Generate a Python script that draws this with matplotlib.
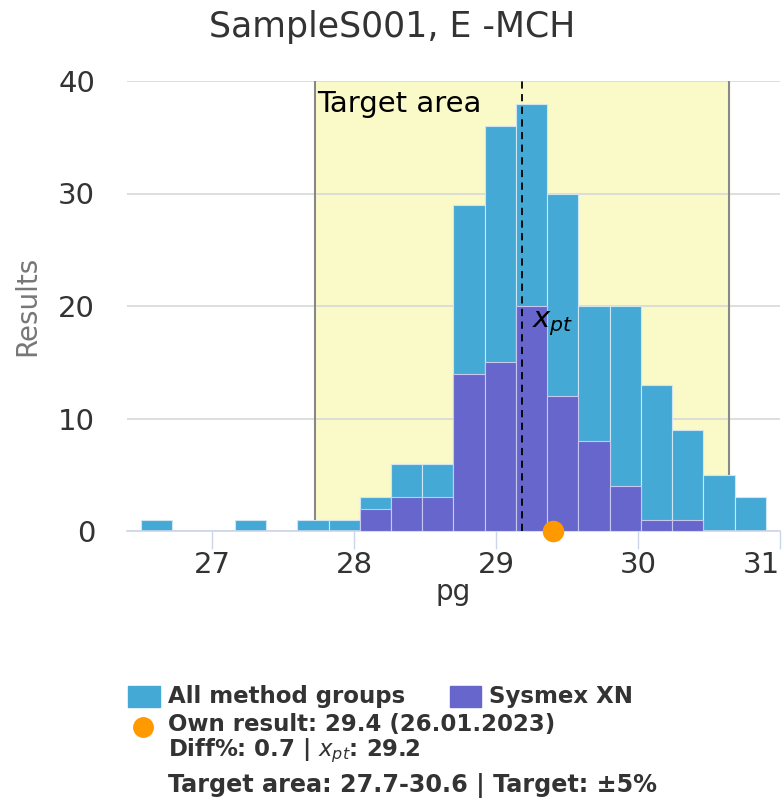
import numpy as np
import matplotlib.pyplot as plt
from matplotlib.patches import Rectangle

# histogram bins (pg)
bin_start = 26.5
bin_width = 0.22
all_counts = [1, 0, 0, 1, 0, 1, 1, 3, 6, 6, 29, 36, 38, 30, 20, 20, 13, 9, 5, 3]
sysmex_counts = [0, 0, 0, 0, 0, 0, 0, 2, 3, 3, 14, 15, 20, 12, 8, 4, 1, 1, 0, 0]

x_pt = 29.18
own_result = 29.4
own_date = "26.01.2023"
diff_pct = 0.7
target_pct = 5
target_lo = x_pt * (1 - target_pct / 100)
target_hi = x_pt * (1 + target_pct / 100)

title = "SampleS001, E -MCH"
c_all = "#45a9d6"
c_sys = "#6666cc"
c_own = "#ff9900"
txt = "#333333"

edges = bin_start + bin_width * np.arange(len(all_counts))

fig = plt.figure(figsize=(7.84, 8.10), dpi=100)
ax = fig.add_axes([127 / 784, 1 - 531 / 810, 653 / 784, 450 / 810])

ax.axvspan(target_lo, target_hi, color="#fafac8", zorder=0)
ax.axvline(target_lo, color="#888888", lw=1.5, zorder=1)
ax.axvline(target_hi, color="#888888", lw=1.5, zorder=1)

ax.bar(edges, all_counts, width=bin_width, align="edge", color=c_all,
       edgecolor="#cfe6f2", linewidth=0.8, zorder=2)
ax.bar(edges, sysmex_counts, width=bin_width, align="edge", color=c_sys,
       edgecolor="#c8c8ee", linewidth=0.8, zorder=3)

ax.axvline(x_pt, color="black", lw=1.3, ls=(0, (4, 3)), zorder=4)
ax.text(x_pt + 0.07, 19.7, r"$x_{pt}$", fontsize=21, va="top", ha="left",
        color="black", zorder=5)
ax.text(target_lo + 0.02, 38.0, "Target area", fontsize=21, va="center",
        ha="left", color="black", zorder=5)

ax.scatter([own_result], [0], s=210, color=c_own, zorder=6, clip_on=False)

ax.set_xlim(26.40, 31.0)
ax.set_ylim(0, 40)
ax.set_yticks([0, 10, 20, 30, 40])
ax.set_xticks([27, 28, 29, 30, 31])
ax.grid(axis="y", color="#d8d8d8", lw=1.2, zorder=0)
ax.set_axisbelow(True)
for s in ["top", "right", "left"]:
    ax.spines[s].set_visible(False)
ax.spines["bottom"].set_color("#ccd6eb")
ax.spines["bottom"].set_linewidth(1.2)
ax.tick_params(axis="y", length=0, labelsize=21, labelcolor=txt, pad=23)
ax.tick_params(axis="x", length=13, width=1, color="#ccd6eb", labelsize=21,
               labelcolor=txt, pad=1.5)
# last label pushed inside the chart like the original
ax.get_xticklabels()[-1].set_horizontalalignment("right")
ax.set_xlabel("pg", fontsize=20, color=txt, labelpad=-1)
ax.set_ylabel("Results", fontsize=20, color="#777777", labelpad=12)

fig.text(0.5, 1 - 37 / 810, title, fontsize=25, color=txt, ha="center",
         va="baseline")


# legend block
def fx(px):
    return px / 784


def fy(py):
    return 1 - py / 810


lfs = 16.5
fig.patches.append(Rectangle((fx(128), fy(707)), fx(32), 21 / 810,
                             transform=fig.transFigure, color=c_all))
fig.text(fx(168), fy(697), "All method groups", fontsize=lfs, weight="bold",
         color=txt, va="center")
fig.patches.append(Rectangle((fx(450), fy(707)), fx(31), 21 / 810,
                             transform=fig.transFigure, color=c_sys))
fig.text(fx(489), fy(697), "Sysmex XN", fontsize=lfs, weight="bold",
         color=txt, va="center")
fig.add_artist(plt.Line2D([fx(143)], [fy(727)], marker="o", markersize=14,
                          color=c_own, transform=fig.transFigure))
fig.text(fx(168), fy(724), f"Own result: {own_result} ({own_date})",
         fontsize=lfs, weight="bold", color=txt, va="center")
fig.text(fx(168), fy(751), f"Diff%: {diff_pct} | " + r"$\mathit{x_{pt}}$" + f": {x_pt:.1f}",
         fontsize=lfs, weight="bold", color=txt, va="center")
fig.text(fx(168), fy(785),
         f"Target area: {target_lo:.1f}-{int(target_hi * 10) / 10:.1f} | Target: \u00b1{target_pct}%",
         fontsize=17.2, weight="bold", color=txt, va="center")

fig.savefig("out.png", dpi=100)
